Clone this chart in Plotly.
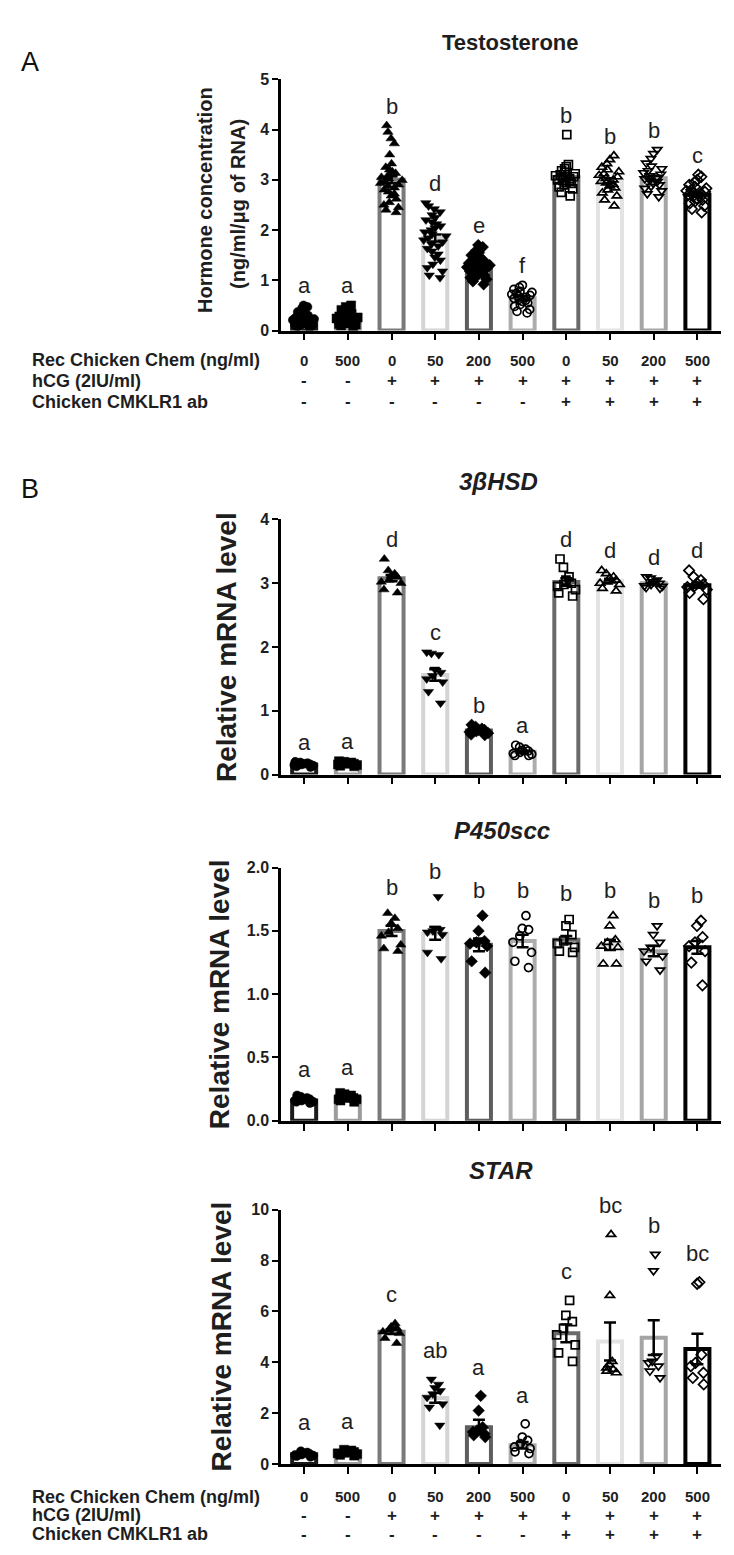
import plotly.graph_objects as go

W, H = 734, 1555

# ---------------- data ----------------
positions = [0, 1, 2, 3, 4, 5, 6, 7, 8, 9]
rec_chem = ["0", "500", "0", "50", "200", "500", "0", "50", "200", "500"]
hcg = ["-", "-", "+", "+", "+", "+", "+", "+", "+", "+"]
cmklr1_ab = ["-", "-", "-", "-", "-", "-", "+", "+", "+", "+"]
row_labels = ["Rec Chicken Chem (ng/ml)", "hCG (2IU/ml)", "Chicken CMKLR1 ab"]

# Testosterone (ng/ml/ug of RNA)
testo_mean = [0.23, 0.26, 3.0, 1.84, 1.27, 0.64, 3.05, 2.98, 3.03, 2.7]
testo_sem = [0.02, 0.02, 0.07, 0.07, 0.04, 0.04, 0.05, 0.05, 0.05, 0.04]
testo_letters = ["a", "a", "b", "d", "e", "f", "b", "b", "b", "c"]
testo_points = [
    [0.06, 0.08, 0.1, 0.11, 0.12, 0.13, 0.14, 0.15, 0.16, 0.17, 0.18, 0.19, 0.2, 0.21,
     0.22, 0.23, 0.24, 0.25, 0.27, 0.28, 0.3, 0.32, 0.34, 0.37, 0.4, 0.44, 0.47, 0.5],
    [0.08, 0.1, 0.12, 0.13, 0.14, 0.15, 0.16, 0.18, 0.19, 0.2, 0.21, 0.22, 0.23, 0.24,
     0.25, 0.26, 0.27, 0.28, 0.3, 0.31, 0.33, 0.35, 0.38, 0.41, 0.44, 0.47, 0.5],
    [2.35, 2.4, 2.45, 2.5, 2.55, 2.62, 2.68, 2.72, 2.76, 2.8, 2.84, 2.88, 2.9, 2.93, 2.96,
     2.99, 3.02, 3.05, 3.08, 3.1, 3.13, 3.16, 3.2, 3.25, 3.32, 3.5, 3.72, 3.82, 3.95, 4.08],
    [1.05, 1.1, 1.18, 1.25, 1.32, 1.4, 1.46, 1.52, 1.58, 1.63, 1.68, 1.72, 1.76, 1.8, 1.84,
     1.88, 1.92, 1.96, 2.0, 2.04, 2.08, 2.12, 2.16, 2.2, 2.25, 2.3, 2.36, 2.42, 2.48, 2.54],
    [0.92, 0.98, 1.02, 1.05, 1.08, 1.1, 1.12, 1.14, 1.16, 1.18, 1.2, 1.22, 1.24, 1.26,
     1.28, 1.3, 1.32, 1.34, 1.36, 1.38, 1.4, 1.43, 1.46, 1.5, 1.55, 1.6, 1.66, 1.7],
    [0.35, 0.38, 0.42, 0.48, 0.52, 0.55, 0.58, 0.6, 0.62, 0.64, 0.66, 0.68, 0.7, 0.72,
     0.74, 0.76, 0.78, 0.82, 0.86, 0.9],
    [2.68, 2.75, 2.82, 2.86, 2.9, 2.93, 2.95, 2.97, 2.99, 3.0, 3.02, 3.04, 3.06, 3.08,
     3.1, 3.12, 3.15, 3.18, 3.22, 3.26, 3.3, 3.9],
    [2.48, 2.6, 2.68, 2.74, 2.8, 2.84, 2.88, 2.91, 2.94, 2.97, 3.0, 3.03, 3.06, 3.09,
     3.12, 3.16, 3.2, 3.25, 3.32, 3.4, 3.48],
    [2.66, 2.72, 2.78, 2.83, 2.87, 2.9, 2.93, 2.96, 2.99, 3.02, 3.05, 3.08, 3.11, 3.14,
     3.18, 3.22, 3.27, 3.33, 3.42, 3.52, 3.6],
    [2.35, 2.42, 2.48, 2.53, 2.57, 2.6, 2.63, 2.66, 2.68, 2.7, 2.72, 2.74, 2.76, 2.78,
     2.8, 2.83, 2.86, 2.9, 2.95, 3.0, 3.06, 3.1],
]

# 3bHSD relative mRNA
hsd_mean = [0.16, 0.17, 3.08, 1.56, 0.69, 0.36, 3.02, 3.04, 3.0, 2.97]
hsd_sem = [0.01, 0.01, 0.05, 0.09, 0.02, 0.02, 0.06, 0.03, 0.02, 0.04]
hsd_letters = ["a", "a", "d", "c", "b", "a", "d", "d", "d", "d"]
hsd_points = [
    [0.12, 0.13, 0.14, 0.15, 0.16, 0.16, 0.17, 0.18, 0.19, 0.2],
    [0.13, 0.14, 0.15, 0.16, 0.17, 0.17, 0.18, 0.19, 0.2, 0.21],
    [2.85, 2.9, 3.0, 3.02, 3.05, 3.1, 3.12, 3.15, 3.2, 3.38],
    [1.12, 1.3, 1.45, 1.5, 1.55, 1.6, 1.65, 1.88, 1.9, 1.92],
    [0.62, 0.63, 0.65, 0.67, 0.68, 0.7, 0.7, 0.72, 0.75, 0.78],
    [0.3, 0.3, 0.32, 0.33, 0.35, 0.37, 0.38, 0.4, 0.43, 0.46],
    [2.8, 2.85, 2.9, 2.95, 2.98, 3.0, 3.05, 3.1, 3.25, 3.38],
    [2.88, 2.92, 2.98, 3.0, 3.02, 3.05, 3.08, 3.1, 3.15, 3.2],
    [2.92, 2.93, 2.95, 2.96, 2.98, 3.0, 3.02, 3.05, 3.08, 3.1],
    [2.75, 2.85, 2.9, 2.94, 2.96, 2.98, 3.0, 3.05, 3.1, 3.2],
]

# P450scc relative mRNA
p450_mean = [0.16, 0.18, 1.5, 1.48, 1.39, 1.42, 1.43, 1.39, 1.34, 1.37]
p450_sem = [0.01, 0.01, 0.04, 0.05, 0.05, 0.05, 0.03, 0.04, 0.04, 0.05]
p450_letters = ["a", "a", "b", "b", "b", "b", "b", "b", "b", "b"]
p450_points = [
    [0.14, 0.15, 0.15, 0.16, 0.16, 0.17, 0.17, 0.18, 0.19, 0.2],
    [0.15, 0.16, 0.17, 0.17, 0.18, 0.18, 0.19, 0.2, 0.21, 0.22],
    [1.34, 1.36, 1.39, 1.46, 1.49, 1.52, 1.56, 1.6, 1.64],
    [1.28, 1.33, 1.47, 1.49, 1.5, 1.51, 1.52, 1.77],
    [1.17, 1.26, 1.38, 1.4, 1.41, 1.42, 1.5, 1.62],
    [1.21, 1.26, 1.33, 1.41, 1.46, 1.51, 1.52, 1.62],
    [1.33, 1.34, 1.37, 1.4, 1.42, 1.47, 1.54, 1.59],
    [1.24, 1.24, 1.37, 1.38, 1.41, 1.43, 1.54, 1.62],
    [1.19, 1.26, 1.3, 1.34, 1.37, 1.41, 1.47, 1.54],
    [1.07, 1.25, 1.34, 1.38, 1.41, 1.45, 1.54, 1.58],
]

# STAR relative mRNA
star_mean = [0.38, 0.45, 5.2, 2.6, 1.45, 0.74, 5.14, 4.82, 4.97, 4.52]
star_sem = [0.03, 0.03, 0.09, 0.19, 0.29, 0.13, 0.35, 0.75, 0.68, 0.6]
star_letters = ["a", "a", "c", "ab", "a", "a", "c", "bc", "b", "bc"]
star_points = [
    [0.28, 0.31, 0.33, 0.35, 0.37, 0.39, 0.42, 0.45, 0.5],
    [0.33, 0.36, 0.39, 0.42, 0.44, 0.47, 0.5, 0.53, 0.56],
    [4.75, 4.95, 5.14, 5.2, 5.27, 5.34, 5.4, 5.53],
    [1.52, 2.23, 2.36, 2.62, 2.75, 2.88, 3.0, 3.13, 3.33],
    [1.06, 1.13, 1.19, 1.26, 1.32, 1.45, 2.1, 2.68],
    [0.41, 0.48, 0.61, 0.67, 0.8, 0.93, 1.06, 1.58],
    [4.04, 4.37, 4.69, 5.08, 5.34, 5.6, 5.85, 6.44],
    [3.59, 3.65, 3.72, 3.78, 3.91, 4.04, 6.63, 9.03],
    [3.39, 3.65, 3.85, 3.98, 4.04, 4.24, 7.6, 8.25],
    [3.13, 3.39, 3.59, 3.85, 3.98, 4.3, 7.09, 7.15],
]

# ---------------- styles ----------------
symbols = ["circle", "square", "triangle-up", "triangle-down", "diamond",
           "circle-open", "square-open", "triangle-up-open", "triangle-down-open", "diamond-open"]
bar_colors = ["#1a1a1a", "#9c9c9c", "#7a7a7a", "#d4d4d4", "#5e5e5e",
              "#adadad", "#6a6a6a", "#e3e3e3", "#a5a5a5", "#000000"]
FONT = "Liberation Sans, Arial, sans-serif"
TXT = "#1e1e1e"


def fx(px):
    return px / W


def fy(py):
    return 1 - py / H


X0, X1 = 273, 713
XRANGE = [-0.53, 9.54]

panels = [
    dict(mean=testo_mean, sem=testo_sem, letters=testo_letters, points=testo_points,
         ymax=5, dtick=1, fmt="d", top=64, bottom=318, shift=5),
    dict(mean=hsd_mean, sem=hsd_sem, letters=hsd_letters, points=hsd_points,
         ymax=4, dtick=1, fmt="d", top=509, bottom=767, shift=5),
    dict(mean=p450_mean, sem=p450_sem, letters=p450_letters, points=p450_points,
         ymax=2, dtick=0.5, fmt=".1f", top=861, bottom=1117, shift=11),
    dict(mean=star_mean, sem=star_sem, letters=star_letters, points=star_points,
         ymax=10, dtick=2, fmt="d", top=1207, bottom=1464, shift=14),
]

fig = go.Figure()
annotations = []
layout = {}


def paper_text(xp, yp, text, size, angle=0, xanchor="center", color=TXT):
    return dict(x=fx(xp), y=fy(yp), xref="paper", yref="paper", text=text,
                textangle=angle, showarrow=False, xanchor=xanchor, yanchor="middle",
                font=dict(family=FONT, size=size, color=color))


for k, p in enumerate(panels, start=1):
    xa = "x" if k == 1 else f"x{k}"
    ya = "y" if k == 1 else f"y{k}"
    xkey = "xaxis" if k == 1 else f"xaxis{k}"
    ykey = "yaxis" if k == 1 else f"yaxis{k}"

    fig.add_trace(go.Bar(
        x=positions, y=p["mean"], width=0.55, xaxis=xa, yaxis=ya,
        marker=dict(color="white", line=dict(color=bar_colors, width=4)),
        hoverinfo="skip", showlegend=False))

    for i, vals in enumerate(p["points"]):
        is_open = symbols[i].endswith("open")
        fig.add_trace(go.Box(
            x=[positions[i]] * len(vals), y=vals, xaxis=xa, yaxis=ya,
            boxpoints="all", jitter=0.9, pointpos=0, width=0.62,
            fillcolor="rgba(0,0,0,0)", line=dict(color="rgba(0,0,0,0)", width=0),
            whiskerwidth=0,
            marker=dict(symbol=symbols[i], size=8 if is_open else 9, color="black",
                        line=dict(color="black", width=1.7 if is_open else 0.5)),
            showlegend=False, hoverinfo="y"))

    fig.add_trace(go.Scatter(
        x=positions, y=p["mean"], mode="markers", xaxis=xa, yaxis=ya,
        marker=dict(size=1, color="rgba(0,0,0,0)"),
        error_y=dict(type="data", array=p["sem"], color="black", thickness=2.5, width=6),
        showlegend=False, hoverinfo="skip"))

    layout[xkey] = dict(
        domain=[fx(X0), fx(X1)], range=XRANGE, anchor=ya,
        showgrid=False, zeroline=False, showline=True, linecolor="black", linewidth=2.5,
        ticks="outside", tickvals=positions, ticklen=7, tickwidth=2, tickcolor="black",
        showticklabels=False, fixedrange=True)
    layout[ykey] = dict(
        domain=[fy(p["bottom"]), fy(p["top"])], range=[0, p["ymax"]], anchor=xa,
        showgrid=False, zeroline=False, showline=True, linecolor="black", linewidth=2.5,
        ticks="outside", dtick=p["dtick"], tick0=0, ticklen=6, tickwidth=2,
        tickcolor="black", tickformat=p["fmt"],
        tickfont=dict(family=FONT, size=16, color=TXT, weight="bold"), fixedrange=True)

    for i in range(10):
        top = max(max(p["points"][i]), p["mean"][i] + p["sem"][i])
        annotations.append(dict(
            x=positions[i], y=top, xref=xa, yref=ya, text=p["letters"][i],
            showarrow=False, xanchor="center", yanchor="bottom", yshift=p["shift"],
            font=dict(family=FONT, size=22, color=TXT)))

# Titles and panel letters
annotations += [
    paper_text(503, 27, "<b>Testosterone</b>", 22),
    paper_text(490, 471, "<b><i>3βHSD</i></b>", 24),
    paper_text(494, 823, "<b><i>P450scc</i></b>", 24),
    paper_text(493, 1167, "<b><i>STAR</i></b>", 24),
    paper_text(22, 47, "A", 27, color="#111"),
    paper_text(22, 478, "B", 27, color="#111"),
]

# Y-axis titles
annotations += [
    paper_text(197, 186, "<b>Hormone concentration</b>", 20, angle=-90),
    paper_text(230, 190, "<b>(ng/ml/μg of RNA)</b>", 20, angle=-90),
]
for xc, yc in [(218, 638), (211, 989), (213, 1335)]:
    annotations.append(paper_text(xc, yc, "<b>Relative mRNA level</b>", 28, angle=-90))

# Treatment tables
for xref, rows_y in [("x", [348, 369, 390]), ("x4", [1497, 1516, 1535])]:
    for label, ry in zip(row_labels, rows_y):
        annotations.append(paper_text(22, ry, f"<b>{label}</b>", 18, xanchor="left"))
    for row, ry, size in [(rec_chem, rows_y[0], 15), (hcg, rows_y[1], 17),
                          (cmklr1_ab, rows_y[2], 17)]:
        for i, t in enumerate(row):
            annotations.append(dict(x=positions[i], y=fy(ry), xref=xref, yref="paper",
                                    text=f"<b>{t}</b>", showarrow=False,
                                    xanchor="center", yanchor="middle",
                                    font=dict(family=FONT, size=size, color=TXT)))

fig.update_layout(
    width=W, height=H, margin=dict(l=0, r=0, t=0, b=0),
    paper_bgcolor="white", plot_bgcolor="white", showlegend=False,
    boxmode="overlay", annotations=annotations, **layout)

fig.write_html("out.html")
